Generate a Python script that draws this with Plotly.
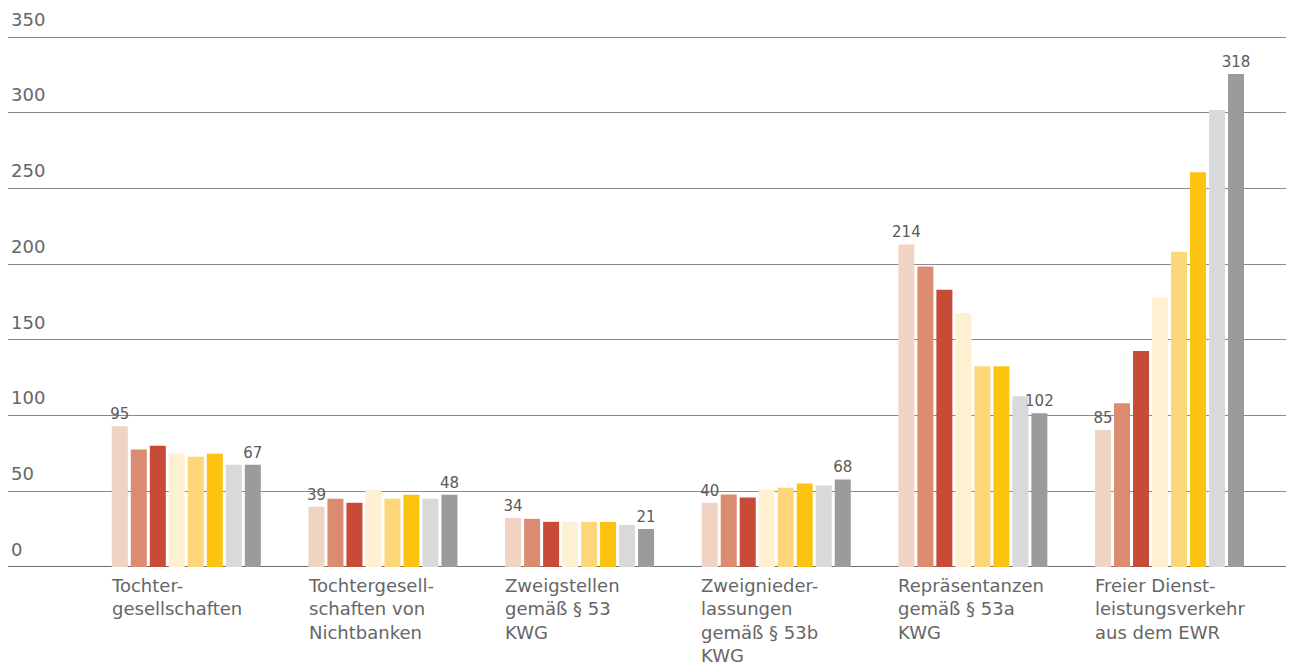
import plotly.graph_objects as go

categories = [
    "Tochter-<br>gesellschaften",
    "Tochtergesell-<br>schaften von<br>Nichtbanken",
    "Zweigstellen<br>gemäß § 53<br>KWG",
    "Zweignieder-<br>lassungen<br>gemäß § 53b<br>KWG",
    "Repräsentanzen<br>gemäß § 53a<br>KWG",
    "Freier Dienst-<br>leistungsverkehr<br>aus dem EWR",
]

series_1 = [93, 39.7, 32.4, 42.4, 213, 90.4]
series_2 = [77.5, 45, 31.8, 47.8, 198.4, 108.2]
series_3 = [80.1, 42.4, 29.8, 45.8, 183.1, 142.7]
series_4 = [74.8, 51, 29.8, 51.1, 167.8, 177.9]
series_5 = [72.8, 45, 29.8, 52.4, 132.6, 208.2]
series_6 = [74.8, 47.7, 29.8, 55.1, 132.6, 260.7]
series_7 = [67.5, 45, 27.8, 53.8, 112.8, 301.8]
series_8 = [67.5, 47.7, 25.1, 57.8, 101.6, 325.6]

labels_first = ["95", "39", "34", "40", "214", "85"]
labels_last = ["67", "48", "21", "68", "102", "318"]

y_ticks = [0, 50, 100, 150, 200, 250, 300, 350]

series = [series_1, series_2, series_3, series_4, series_5, series_6, series_7, series_8]
colors = ["#f0d3c3", "#da8b70", "#c84b38", "#fff0d2", "#fdd67a", "#fdc311", "#d9d9db", "#9b9b9e"]

font_family = "Verdana, DejaVu Sans, sans-serif"
text_color = "#666666"

fig = go.Figure()
n = len(series)
for i, (vals, col) in enumerate(zip(series, colors)):
    if i == 0:
        txt = labels_first
    elif i == n - 1:
        txt = labels_last
    else:
        txt = [""] * len(vals)
    fig.add_trace(go.Bar(
        x=categories, y=vals, marker=dict(color=col, line=dict(width=0)),
        text=txt, textposition="outside", cliponaxis=False, constraintext="none",
        textfont=dict(family=font_family, size=15, color="#5a5a5a"),
        name=f"Reihe {i + 1}", showlegend=False, hoverinfo="x+y",
    ))

for c in categories:
    fig.add_annotation(
        x=c, xref="x", y=0, yref="y", yanchor="top", xanchor="left",
        xshift=-77, yshift=-6, text=c, showarrow=False, align="left",
        font=dict(family=font_family, size=18, color=text_color),
    )

fig.update_layout(
    width=1286, height=658,
    margin=dict(l=0, r=0, t=0, b=96, pad=0),
    paper_bgcolor="white", plot_bgcolor="white",
    barmode="group", bargap=0.227, bargroupgap=0.158,
    font=dict(family=font_family, color=text_color),
    xaxis=dict(type="category", range=[-0.9067, 5.633], showticklabels=False,
               showgrid=False, zeroline=False, showline=False, fixedrange=True),
    yaxis=dict(range=[-2, 369.15], tickvals=y_ticks, ticklabelposition="inside top",
               ticklabelshift=-5,
               tickfont=dict(family=font_family, size=18, color=text_color),
               showgrid=True, gridcolor="#8a8a8a", gridwidth=1,
               zeroline=True, zerolinecolor="#6e6e6e", zerolinewidth=1,
               showline=False, ticks="", fixedrange=True),
)

fig.write_html("out.html")
